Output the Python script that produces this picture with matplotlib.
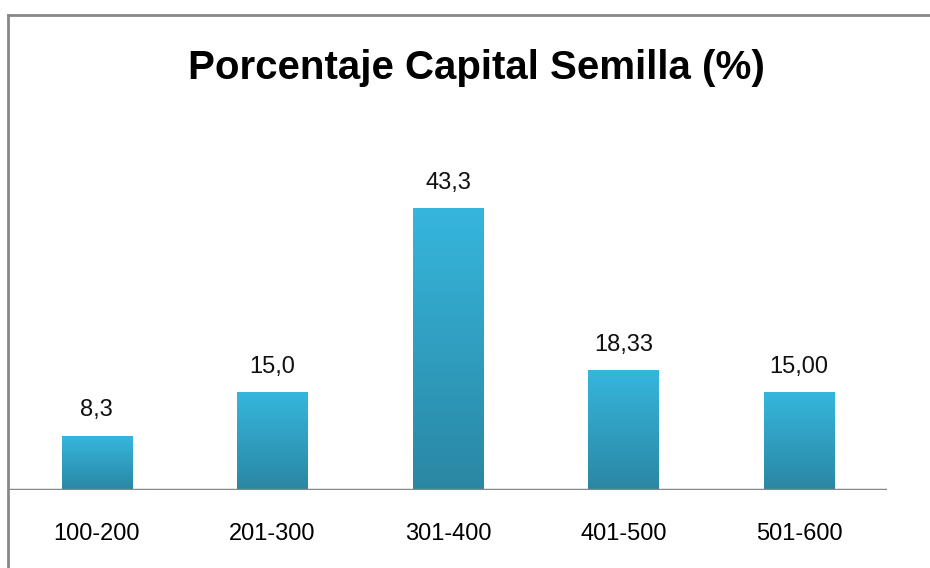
import numpy as np
import matplotlib.pyplot as plt
from matplotlib import font_manager
from matplotlib.colors import LinearSegmentedColormap

# data
categories = ['100-200', '201-300', '301-400', '401-500', '501-600']
values = [8.3, 15.0, 43.3, 18.33, 15.00]
labels = ['8,3', '15,0', '43,3', '18,33', '15,00']
title = 'Porcentaje Capital Semilla (%)'

names = {f.name for f in font_manager.fontManager.ttflist}
fam = 'Liberation Sans Narrow' if 'Liberation Sans Narrow' in names else 'Liberation Sans'
plt.rcParams['font.family'] = [fam, 'DejaVu Sans']

fig = plt.figure(figsize=(9.30, 5.68), dpi=100)

# chart border (left and top visible)
fig.add_artist(plt.Line2D([8/930, 8/930], [0, 1 - 15/568], color='#888888', lw=2))
fig.add_artist(plt.Line2D([8/930, 1], [1 - 15/568, 1 - 15/568], color='#888888', lw=2))

ax = fig.add_axes([9/930, 1 - 490/568, 878/930, 390/568])
x = np.arange(len(categories))
w = 0.4

cmap = LinearSegmentedColormap.from_list('bar', ['#2a87a3', '#36b6dd'])
grad = np.linspace(0, 1, 256).reshape(-1, 1)
for xi, v, lab in zip(x, values, labels):
    ax.imshow(grad, cmap=cmap, origin='lower', aspect='auto',
              extent=[xi - w/2, xi + w/2, 0, v], zorder=2)
    ax.text(xi, v + 4.0, lab, ha='center', va='center', fontsize=17, color='#111111')

ax.set_xlim(-0.5, len(categories) - 0.5)
ax.set_ylim(0, 60)
ax.axhline(0, color='#888888', lw=2.5, zorder=3)
for s in ax.spines.values():
    s.set_visible(False)
ax.set_yticks([])
ax.set_xticks(x)
ax.set_xticklabels(categories, fontsize=17)
ax.tick_params(axis='x', length=0, pad=24)

fig.text(476/930, 1 - 68/568, title, ha='center', va='center',
         fontsize=29, fontweight='bold')

fig.savefig('out.png', dpi=100)
